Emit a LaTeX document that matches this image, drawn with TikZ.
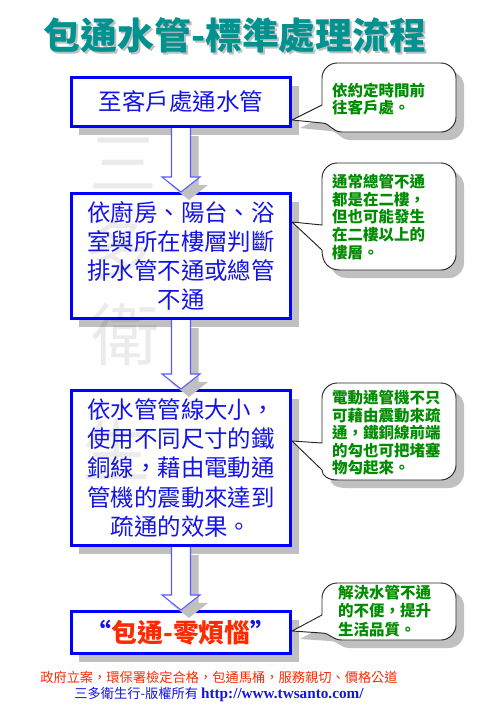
\documentclass[tikz,border=0pt]{standalone}
\usepackage{fontspec}
\usepackage{tikz}
\usetikzlibrary{calc,shadows}
\newfontfamily\cjk{Noto Sans CJK TC}
\newfontfamily\urlfont{Liberation Serif}
\definecolor{FlowBlue}{HTML}{0000FF}
\definecolor{FlowText}{HTML}{1414E6}
\definecolor{FlowArrow}{HTML}{5A5AFF}
\definecolor{FlowTeal}{HTML}{00928F}
\definecolor{FlowGreen}{HTML}{008C00}
\definecolor{FlowRed}{HTML}{FF2A00}
\definecolor{FlowShadow}{HTML}{C0C0C0}

\tikzset{
  gshadow/.style={drop shadow={shadow xshift=0.24cm, shadow yshift=-0.24cm, opacity=1, fill=FlowShadow}},
  stepbox/.style={draw=FlowBlue, line width=2.6pt, fill=white, gshadow, minimum width=6.57cm,
    text=FlowText, align=center, inner sep=0pt, font=\cjk\fontsize{20}{24.8}\selectfont},
  pipearrow/.style={draw=FlowArrow, line width=0.9pt, fill=white, gshadow},
  callbox/.style={draw=black!85, line width=0.8pt, fill=white, gshadow},
  calltext/.style={anchor=west, align=left, inner sep=0pt, text=FlowGreen,
    font=\cjk\bfseries\fontsize{13.2}{15}\selectfont},
  titletext/.style={font=\cjk\bfseries\fontsize{31.5}{31.5}\selectfont},
  wmark/.style={text=black, text opacity=0.08, font=\cjk\fontsize{58}{58}\selectfont}
}

% hollow block arrow from the bottom of #1 to the top of #2
\newcommand\flowarrow[2]{%
  \draw[pipearrow] ($(#1.south)+(-9.5,0)$) -- ($(#2.north)+(-9.5,-15)$) -- ($(#2.north)+(-19,-15)$)
    -- (#2.north) -- ($(#2.north)+(19,-15)$) -- ($(#2.north)+(9.5,-15)$) -- ($(#1.south)+(9.5,0)$);}

\begin{document}
\begin{tikzpicture}[x=0.03cm, y=-0.03cm]
  \useasboundingbox[fill=white] (0,0) rectangle (480,720);

  % title
  \node[titletext, text=FlowShadow] at (237,37) {包通水管-標準處理流程};
  \node[titletext, text=FlowTeal] (title) at (235,35) {包通水管-標準處理流程};

  % steps
  \node[stepbox, minimum height=1.47cm] (s1) at (181,102) {至客戶處通水管};
  \node[stepbox, minimum height=3.75cm] (s2) at (181,256) {依廚房、陽台、浴\\室與所在樓層判斷\\排水管不通或總管\\不通};
  \node[stepbox, minimum height=4.65cm] (s3) at (181,468) {依水管管線大小，\\使用不同尺寸的鐵\\銅線，藉由電動通\\管機的震動來達到\\疏通的效果。};
  \node[stepbox, minimum height=1.26cm, font=\cjk\bfseries\fontsize{22}{22}\selectfont] (s4) at (181,632.5)
    {“\textcolor{FlowRed}{包通-零煩惱}”};

  \flowarrow{s1}{s2}
  \flowarrow{s2}{s3}
  \flowarrow{s3}{s4}

  % callouts
  \draw[callbox] (322,105) -- (s1.east |- 0,120) -- (322,123) .. controls (330,123) and (332,132) .. (342,132)
    -- (441,132) .. controls (449,132) and (456,125) .. (456,117) -- (456,78) .. controls (456,70) and (449,63) .. (441,63)
    -- (337,63) .. controls (329,63) and (322,70) .. (322,78) -- cycle;
  \node[calltext, font=\cjk\bfseries\fontsize{13.2}{14}\selectfont] (n1) at (332,99) {依約定時間前\\往客戶處。};

  \draw[callbox] (322,225) -- (s2.east |- 0,222) -- (322,250) .. controls (322,262) and (328,270) .. (340,270)
    -- (441,270) .. controls (449,270) and (456,263) .. (456,255) -- (456,178) .. controls (456,170) and (449,163) .. (441,163)
    -- (337,163) .. controls (329,163) and (322,170) .. (322,178) -- cycle;
  \node[calltext] (n2) at (332,217) {通常總管不通\\都是在二樓，\\但也可能發生\\在二樓以上的\\樓層。};

  \draw[callbox] (322,443) -- (s3.east |- 0,441) -- (322,470) .. controls (322,476) and (328,480) .. (338,480)
    -- (441,480) .. controls (449,480) and (456,473) .. (456,465) -- (456,398) .. controls (456,390) and (449,383) .. (441,383)
    -- (337,383) .. controls (329,383) and (322,390) .. (322,398) -- cycle;
  \node[calltext] (n3) at (332,433) {電動通管機不只\\可藉由震動來疏\\通，鐵銅線前端\\的勾也可把堵塞\\物勾起來。};

  \draw[callbox] (322,615) -- (s4.east |- 0,631) -- (322,633) .. controls (330,633) and (332,640) .. (342,640)
    -- (441,640) .. controls (449,640) and (456,633) .. (456,625) -- (456,598) .. controls (456,590) and (449,583) .. (441,583)
    -- (337,583) .. controls (329,583) and (322,590) .. (322,598) -- cycle;
  \node[calltext, font=\cjk\bfseries\fontsize{13.2}{16}\selectfont] (n4) at (338,611) {解決水管不通\\的不便，提升\\生活品質。};

  % footer
  \node[font=\cjk\fontsize{11.3}{11.3}\selectfont, text=FlowRed] (slogan) at (219,677)
    {政府立案，環保署檢定合格，包通馬桶，服務親切、價格公道};
  \node[font=\cjk\fontsize{11.3}{11.3}\selectfont, text=FlowText] (owner) at (219,695)
    {三多衛生行-版權所有 {\urlfont\bfseries\fontsize{13}{13}\selectfont http://www.twsanto.com/}};

  % watermark
  \node[wmark] (wm1) at (123,163) {三};
  \node[wmark] (wm2) at (118,250) {多};
  \node[wmark] (wm3) at (125,335) {衛};
  \node[wmark] (wm4) at (116,450) {生};
\end{tikzpicture}
\end{document}
